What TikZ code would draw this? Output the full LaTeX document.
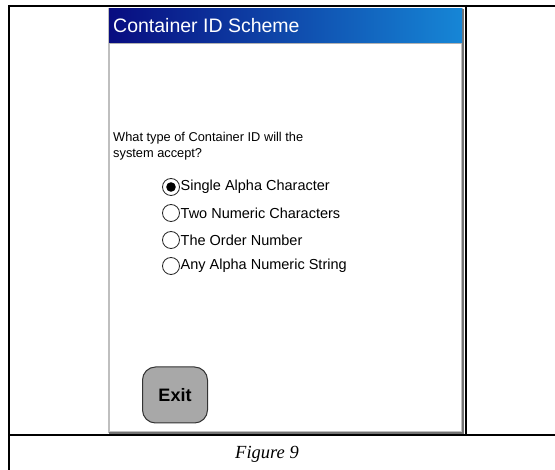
\documentclass[tikz,border=0pt]{standalone}
\usepackage{fontspec}
\setmainfont{Liberation Sans}
\newfontfamily\capfont{Liberation Serif}
\begin{document}
\begin{tikzpicture}[x=1pt,y=-1pt,
  tline/.style={line width=2pt,black},
  radio/.style={circle,draw=black!85,line width=0.8pt,minimum size=17pt,inner sep=0pt},
  opt/.style={anchor=west,font=\fontsize{14.5}{16}\selectfont,inner sep=0pt},
  qtext/.style={anchor=west,font=\fontsize{12.8}{14}\selectfont,inner sep=0pt}]
\useasboundingbox (0,0) rectangle (555,470);
\definecolor{navy}{RGB}{8,12,128}
\definecolor{lblue}{RGB}{22,134,214}
\definecolor{btn}{RGB}{168,168,168}
% screen
\fill[white] (108,8) rectangle (464,434);
\draw[black!25,line width=2pt] (109,9) rectangle (462,432);
\draw[black!55,line width=1.5pt] (463,9) -- (463,433) -- (109,433);
\shade[left color=navy,right color=lblue] (109,9) rectangle (462,43);
\draw[black!30,line width=0.6pt] (109,43) -- (462,43);
\node[anchor=west,text=white,font=\fontsize{19.5}{22}\selectfont,inner sep=0pt] (title) at (113,26) {Container ID Scheme};
\node[qtext] (q1) at (113,138) {What type of Container ID will the};
\node[qtext] (q2) at (113,154) {system accept?};
\node[radio] (r1) at (171,187) {};
\fill[black] (r1) circle (4.8);
\node[opt] (t1) at (180.5,187) {Single Alpha Character};
\node[radio] (r2) at (171,213) {};
\node[opt] (t2) at (180.5,213) {Two Numeric Characters};
\node[radio] (r3) at (171,240) {};
\node[opt] (t3) at (180.5,240) {The Order Number};
\node[radio] (r4) at (171,266) {};
\node[opt] (t4) at (180.5,266) {Any Alpha Numeric String};
\node[draw=black!80,fill=btn,rounded corners=13pt,line width=1pt,minimum width=65pt,minimum height=56pt,font=\bfseries\fontsize{18}{20}\selectfont] (exit) at (175,395) {Exit};
% table lines
\draw[tline] (8,6) -- (555,6);
\draw[tline] (9,5) -- (9,470);
\draw[tline] (465.5,5) -- (465.5,435);
\draw[tline] (8,435) -- (555,435);
\node[font=\capfont\itshape\fontsize{18.5}{22}\selectfont,inner sep=0pt] (cap) at (267,454) {Figure 9};
\end{tikzpicture}
\end{document}
